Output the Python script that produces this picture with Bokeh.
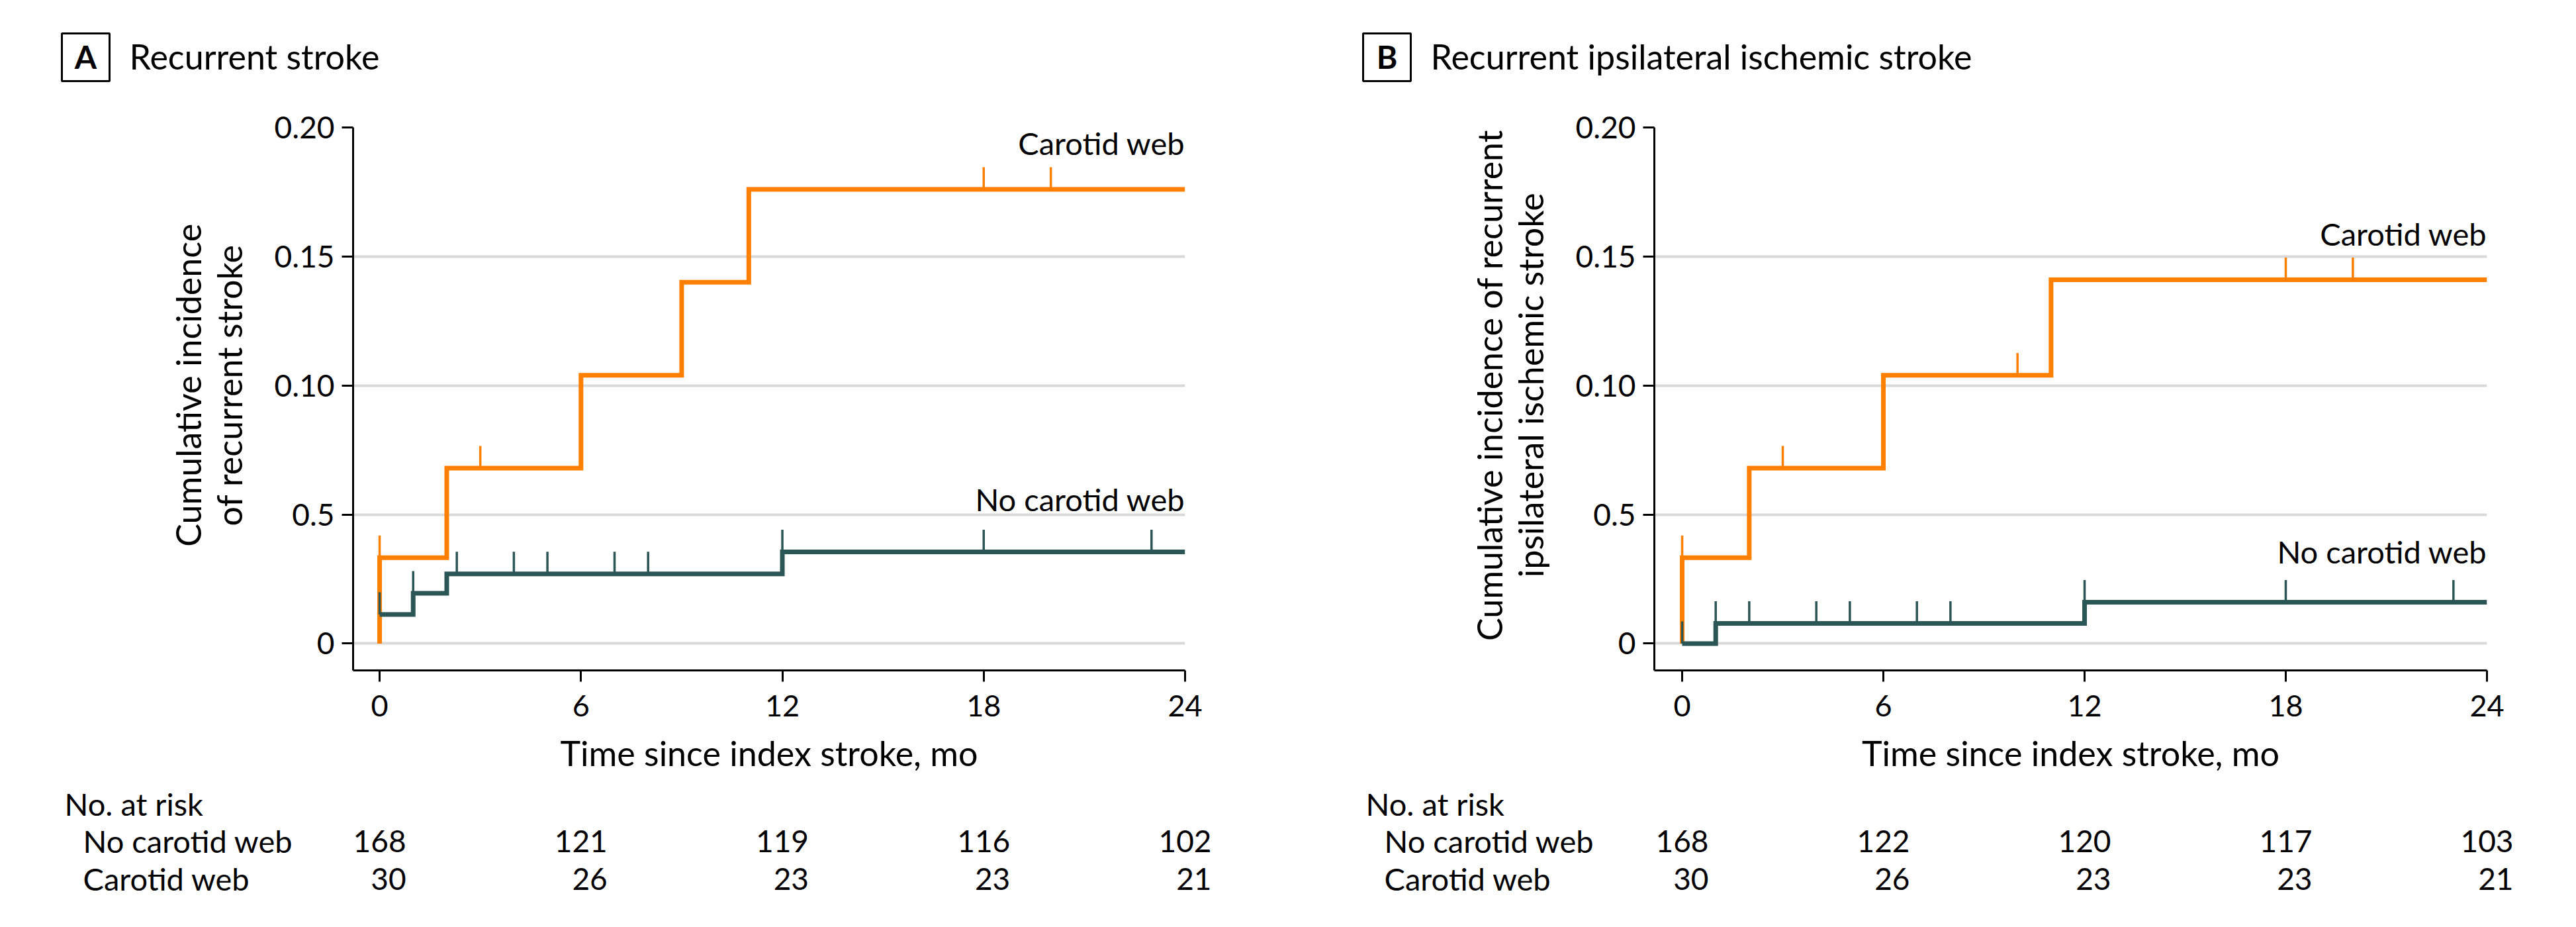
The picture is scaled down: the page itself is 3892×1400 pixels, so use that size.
import math
from bokeh.plotting import figure
from bokeh.models import Range1d, FixedTicker
from bokeh.core.properties import value
from bokeh.layouts import row, column
from bokeh.embed import file_html
from bokeh.resources import INLINE

# ---------------- data ----------------
x_ticks = [0, 6, 12, 18, 24]
y_ticks = [0.0, 0.05, 0.10, 0.15, 0.20]
y_tick_labels = ["0", "0.5", "0.10", "0.15", "0.20"]
risk_times = [0, 6, 12, 18, 24]
group_names = ["No carotid web", "Carotid web"]

# Panel A: Recurrent stroke
a_title = "Recurrent stroke"
a_ylabel = ["Cumulative incidence", "of recurrent stroke"]
a_web_t = [0, 0, 2, 6, 9, 11, 24]
a_web_y = [0, 0.0333, 0.068, 0.104, 0.140, 0.176, 0.176]
a_web_cens = [0, 3, 18, 20]
a_noweb_t = [0, 1, 2, 12, 24]
a_noweb_y = [0.0113, 0.0195, 0.027, 0.0355, 0.0355]
a_noweb_cens = [0, 1, 2.3, 4, 5, 7, 8, 12, 18, 23]
a_risk_noweb = [168, 121, 119, 116, 102]
a_risk_web = [30, 26, 23, 23, 21]

# Panel B: Recurrent ipsilateral ischemic stroke
b_title = "Recurrent ipsilateral ischemic stroke"
b_ylabel = ["Cumulative incidence of recurrent", "ipsilateral ischemic stroke"]
b_web_t = [0, 0, 2, 6, 11, 24]
b_web_y = [0, 0.0333, 0.068, 0.104, 0.141, 0.141]
b_web_cens = [0, 3, 10, 18, 20]
b_noweb_t = [0, 1, 12, 24]
b_noweb_y = [0, 0.0078, 0.016, 0.016]
b_noweb_cens = [0, 1, 2, 4, 5, 7, 8, 12, 18, 23]
b_risk_noweb = [168, 122, 120, 117, 103]
b_risk_web = [30, 26, 23, 23, 21]

# ---------------- style / layout ----------------
ORANGE = "#FF7F00"
TEAL = "#2B5656"
GRID = "#D9D9D9"
FONT = "Lato"
W, H = 3892, 1400
HEAD_H = 150          # page y 0..150
MID_BOTTOM = 1102     # page y 150..1102
FRAME_TOP = 192
FRAME_H = 820
Y_START, Y_END = -0.0104, 0.20
CENS_H = 0.0086
X_END = 24
BL = 0.37     # empirical baseline correction (fraction of font size)
BL_ROT = 0.50


def level_at(ts, ys, c):
    idx = max(i for i, t in enumerate(ts) if t <= c)
    return ys[idx]


def canvas(w, h, xr, yr):
    f = figure(width=w, height=h, x_range=xr, y_range=yr, title=None,
               x_axis_location=None, y_axis_location=None,
               output_backend="svg", toolbar_location=None,
               min_border_left=0, min_border_right=0,
               min_border_top=0, min_border_bottom=0,
               background_fill_color="white", border_fill_color="white")
    f.outline_line_color = None
    f.grid.visible = False
    return f


def txt(f, x, py, s, size, align="left", bold=False):
    """Unrotated text; py = wanted baseline in page pixels (y axis is -page y)."""
    f.text(x=[x], y=[-(py - BL * size)], text=[s], text_font=value(FONT),
           text_font_size=value(f"{size}px"), text_align=align,
           text_baseline="alphabetic", text_color="black",
           text_font_style="bold" if bold else "normal")


header = canvas(W, HEAD_H, Range1d(0, W), Range1d(-HEAD_H, 0))


def make_panel(letter, title, ylab, web_t, web_y, web_c, nw_t, nw_y, nw_c,
               risk_nw, risk_w, panel_left, panel_w, frame_left, frame_w,
               x_start, web_lab_py, nw_lab_py):
    def X(px):
        return x_start + (px - frame_left) * (X_END - x_start) / frame_w

    def Y(py):
        return Y_END - (py - FRAME_TOP) * (Y_END - Y_START) / FRAME_H

    # ---- header: boxed letter + title
    bx0, bx1 = frame_left - 440, frame_left - 368
    header.quad(left=[bx0], right=[bx1], top=[-50], bottom=[-122],
                fill_color=None, line_color="black", line_width=3)
    txt(header, (bx0 + bx1) / 2, 103, letter, 48, align="center", bold=True)
    txt(header, frame_left - 338, 104, title, 52)

    # ---- y-axis title strip (rotated text)
    ylab_w = frame_left - 140 - panel_left
    ylf = canvas(ylab_w, MID_BOTTOM - HEAD_H, Range1d(panel_left, panel_left + ylab_w),
                 Range1d(-MID_BOTTOM, -HEAD_H))
    ysize = 52
    ymid = -(FRAME_TOP + FRAME_H / 2)
    for line, off in zip(ylab, (224, 162)):
        ylf.text(x=[frame_left - off - BL_ROT * ysize], y=[ymid], text=[line],
                 angle=math.pi / 2, text_font=value(FONT),
                 text_font_size=value(f"{ysize}px"), text_align="center",
                 text_baseline="alphabetic", text_color="black")

    # ---- main plot
    plot_w = panel_w - ylab_w
    fl_off = frame_left - (panel_left + ylab_w)
    p = figure(width=plot_w, height=MID_BOTTOM - HEAD_H, title=None,
               min_border_left=fl_off,
               min_border_right=plot_w - fl_off - frame_w,
               min_border_top=FRAME_TOP - HEAD_H,
               min_border_bottom=MID_BOTTOM - FRAME_TOP - FRAME_H,
               x_range=Range1d(x_start, X_END), y_range=Range1d(Y_START, Y_END),
               output_backend="svg", toolbar_location=None,
               background_fill_color="white", border_fill_color="white")
    p.outline_line_color = None
    p.xgrid.grid_line_color = None
    p.ygrid.ticker = FixedTicker(ticks=y_ticks)
    p.ygrid.grid_line_color = GRID
    p.ygrid.grid_line_width = 4
    for ax in (p.xaxis[0], p.yaxis[0]):
        ax.axis_line_width = 3
        ax.axis_line_color = "black"
        ax.major_tick_line_width = 3
        ax.major_tick_line_color = "black"
        ax.major_tick_out = 17
        ax.major_tick_in = 0
        ax.minor_tick_line_color = None
        ax.major_label_text_font = FONT
        ax.major_label_text_color = "black"
    p.xaxis[0].ticker = FixedTicker(ticks=x_ticks)
    p.xaxis[0].major_label_text_font_size = "45px"
    p.xaxis[0].major_label_standoff = 20
    p.yaxis[0].ticker = FixedTicker(ticks=y_ticks)
    p.yaxis[0].major_label_overrides = dict(zip(y_ticks, y_tick_labels))
    p.yaxis[0].major_label_text_font_size = "46px"
    p.yaxis[0].major_label_standoff = 11

    p.step(web_t, web_y, mode="after", line_color=ORANGE, line_width=7,
           line_join="miter")
    p.segment(x0=web_c, x1=web_c,
              y0=[level_at(web_t, web_y, c) for c in web_c],
              y1=[level_at(web_t, web_y, c) + CENS_H for c in web_c],
              line_color=ORANGE, line_width=3.5)
    p.step(nw_t, nw_y, mode="after", line_color=TEAL, line_width=7,
           line_join="miter")
    p.segment(x0=nw_c, x1=nw_c,
              y0=[level_at(nw_t, nw_y, c) for c in nw_c],
              y1=[level_at(nw_t, nw_y, c) + CENS_H for c in nw_c],
              line_color=TEAL, line_width=3.5)

    lsize = 47
    p.text(x=[X_END, X_END],
           y=[Y(web_lab_py - BL * lsize), Y(nw_lab_py - BL * lsize)],
           text=[group_names[1], group_names[0]],
           text_align="right", text_baseline="alphabetic", text_color="black",
           text_font=value(FONT), text_font_size=value(f"{lsize}px"))

    # ---- x title + number at risk table (x scale shared with the plot)
    tf = canvas(panel_w, H - MID_BOTTOM,
                Range1d(X(panel_left), X(panel_left + panel_w)),
                Range1d(-H, -MID_BOTTOM))
    txt(tf, X(frame_left + frame_w / 2), 1156, "Time since index stroke, mo", 52,
        align="center")
    txt(tf, X(frame_left - 436), 1231, "No. at risk", 47)
    for name, vals, py in zip(group_names, (risk_nw, risk_w), (1287, 1344)):
        txt(tf, X(frame_left - 408), py, name, 47)
        tf.text(x=risk_times, y=[-(py - BL * 46)] * len(vals),
                text=[str(v) for v in vals], x_offset=40,
                text_font=value(FONT), text_font_size=value("46px"),
                text_align="right", text_baseline="alphabetic", text_color="black")
    return ylf, p, tf


ylA, pA, tA = make_panel("A", a_title, a_ylabel,
                         a_web_t, a_web_y, a_web_cens, a_noweb_t, a_noweb_y, a_noweb_cens,
                         a_risk_noweb, a_risk_web,
                         panel_left=0, panel_w=1950, frame_left=533, frame_w=1257,
                         x_start=-0.79, web_lab_py=233, nw_lab_py=771)
ylB, pB, tB = make_panel("B", b_title, b_ylabel,
                         b_web_t, b_web_y, b_web_cens, b_noweb_t, b_noweb_y, b_noweb_cens,
                         b_risk_noweb, b_risk_web,
                         panel_left=1950, panel_w=1942, frame_left=2499, frame_w=1258,
                         x_start=-0.83, web_lab_py=370, nw_lab_py=850)

layout = column(header, row(ylA, pA, ylB, pB), row(tA, tB))
open("out.html", "w").write(file_html(layout, INLINE))
